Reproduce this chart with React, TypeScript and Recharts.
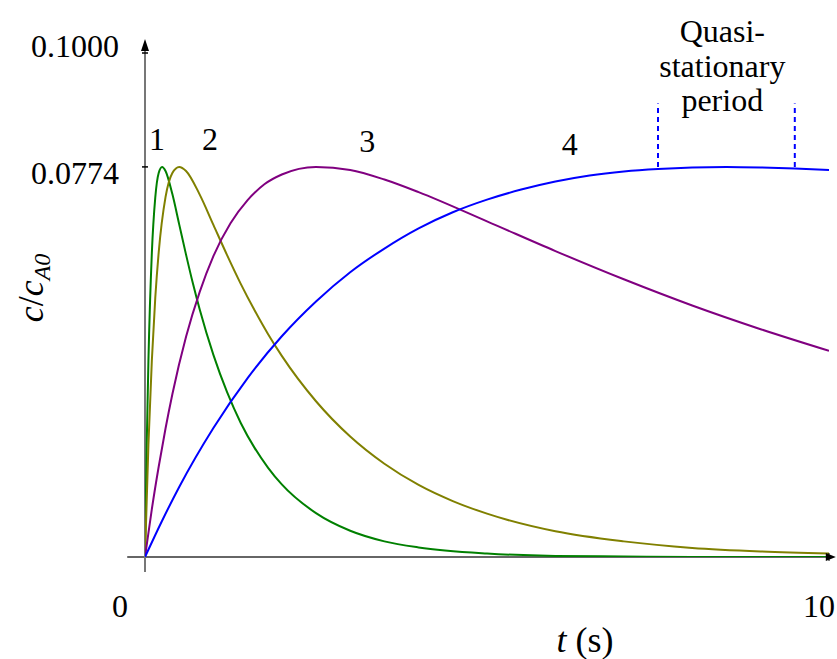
import React from "react";
import {
  LineChart,
  Line,
  XAxis,
  YAxis,
  ReferenceLine,
  ReferenceDot,
} from "recharts";

// curve 1 (fastest)
const t1 = [0, 0.025, 0.05, 0.1, 0.15, 0.2, 0.25, 0.3, 0.4, 0.5, 0.6, 0.7, 0.8, 1, 1.2, 1.4, 1.6, 1.8, 2, 2.5, 3, 3.5, 4, 5, 6, 7, 8, 10];
const c1 = [0, 0.0222, 0.0389, 0.0603, 0.0713, 0.0762, 0.0774, 0.0766, 0.072, 0.066, 0.06, 0.0543, 0.0491, 0.0401, 0.0327, 0.0266, 0.0217, 0.0177, 0.0144, 0.0087, 0.0052, 0.0031, 0.0019, 0.0007, 0.0002, 0.0001, 0, 0];

// curve 2
const t2 = [0, 0.05, 0.1, 0.15, 0.2, 0.3, 0.4, 0.5, 0.6, 0.8, 1, 1.2, 1.4, 1.6, 1.8, 2, 2.5, 3, 3.5, 4, 4.5, 5, 6, 7, 8, 9, 10];
const c2 = [0, 0.0223, 0.039, 0.0514, 0.0604, 0.0714, 0.0762, 0.0774, 0.0766, 0.0719, 0.0659, 0.0599, 0.0542, 0.049, 0.0442, 0.0399, 0.0309, 0.0239, 0.0185, 0.0143, 0.0111, 0.0086, 0.0051, 0.0031, 0.0018, 0.0011, 0.0007];

// curve 3
const t3 = [0, 0.1, 0.2, 0.3, 0.4, 0.6, 0.8, 1, 1.25, 1.5, 1.75, 2, 2.5, 3, 3.5, 4, 5, 6, 7, 8, 9, 10];
const c3 = [0, 0.0095, 0.0179, 0.0255, 0.0323, 0.0437, 0.0526, 0.0597, 0.0662, 0.0708, 0.074, 0.0759, 0.0774, 0.0768, 0.0749, 0.0724, 0.0666, 0.0607, 0.0551, 0.0499, 0.0452, 0.0409];

// curve 4 (slowest)
const t4 = [0, 0.25, 0.5, 1, 1.5, 2, 2.5, 3, 3.5, 4, 4.5, 5, 5.5, 6, 6.5, 7, 7.5, 8, 8.5, 9, 9.5, 10];
const c4 = [0, 0.0072, 0.0139, 0.0256, 0.0355, 0.0438, 0.0507, 0.0565, 0.0612, 0.0652, 0.0684, 0.0709, 0.0729, 0.0745, 0.0757, 0.0765, 0.077, 0.0773, 0.0774, 0.0773, 0.0771, 0.0768];

const yTicks = [0.0774, 0.1];
const xTicks = [0, 10];
const quasiStart = 7.5;
const quasiEnd = 9.5;
const quasiTop = 0.09;
const cMax = 0.0774;

const curveLabels = [
  { text: "1", t: 0.175, c: 0.0808 },
  { text: "2", t: 0.95, c: 0.0808 },
  { text: "3", t: 3.25, c: 0.0804 },
  { text: "4", t: 6.21, c: 0.0798 },
];
const quasiLines = [
  { text: "Quasi-", c: 0.1022 },
  { text: "stationary", c: 0.0953 },
  { text: "period", c: 0.0885 },
];

const zip = (ts: number[], cs: number[]) => ts.map((t, i) => ({ t, c: cs[i] }));

const FONT = "'Liberation Serif', 'Times New Roman', serif";

const YTick = (props: any) => {
  const { x, y, payload } = props;
  const top = payload.value === 0.1;
  return (
    <g>
      <line x1={x - 3} x2={x + 3} y1={y} y2={y} stroke="#000" strokeWidth={1.5} />
      <text x={x - 26} y={y + (top ? 4 : 17)} textAnchor="end" fontFamily={FONT} fontSize={32} fill="#000">
        {payload.value.toFixed(4)}
      </text>
    </g>
  );
};

const XTick = (props: any) => {
  const { x, y, payload } = props;
  const zero = payload.value === 0;
  return (
    <g>
      {!zero && <line x1={x} x2={x} y1={y - 4} y2={y + 4} stroke="#000" strokeWidth={1} />}
      <text x={x + (zero ? -25 : -10)} y={y + 60} textAnchor="middle" fontFamily={FONT} fontSize={32} fill="#000">
        {payload.value}
      </text>
    </g>
  );
};

const textShape = (label: string, size: number) => (p: any) => (
  <text x={p.cx} y={p.cy} textAnchor="middle" fontFamily={FONT} fontSize={size} fill="#000">
    {label}
  </text>
);

export default function App() {
  return (
    <div style={{ position: "absolute", left: 0, top: 0, background: "#fff" }}>
      <LineChart width={837} height={659} margin={{ top: 53, right: 8, bottom: 0, left: 0 }}>
        <XAxis
          type="number"
          dataKey="t"
          domain={[0, 10]}
          ticks={xTicks}
          axisLine={false}
          tickLine={false}
          tickSize={0}
          tickMargin={0}
          height={102}
          tick={<XTick />}
          allowDataOverflow
          label={{
            content: (p: any) => {
              const vb = p.viewBox;
              return (
                <text x={vb.x + vb.width / 2 + 98} y={vb.y + 95} textAnchor="middle" fontFamily={FONT} fontSize={36} fill="#000">
                  <tspan fontStyle="italic">t</tspan> (s)
                </text>
              );
            },
          }}
        />
        <YAxis
          type="number"
          domain={[0, 0.1]}
          ticks={yTicks}
          axisLine={false}
          tickLine={false}
          tickSize={0}
          tickMargin={0}
          width={145}
          tick={<YTick />}
          allowDataOverflow
          label={{
            content: (p: any) => {
              const vb = p.viewBox;
              const cx = vb.x + 43;
              const cy = vb.y + vb.height / 2 - 17;
              return (
                <text transform={`translate(${cx},${cy}) rotate(-90)`} textAnchor="middle" fontFamily={FONT} fontSize={36} fill="#000">
                  <tspan fontStyle="italic">c</tspan>/<tspan fontStyle="italic">c</tspan>
                  <tspan fontStyle="italic" fontSize={24} dy={7}>A0</tspan>
                </text>
              );
            },
          }}
        />

        {/* axes with arrows */}
        <ReferenceLine segment={[{ x: -0.26, y: 0 }, { x: 10.05, y: 0 }]} stroke="#333" strokeWidth={1.5} ifOverflow="visible" />
        <ReferenceLine segment={[{ x: 0, y: -0.003 }, { x: 0, y: 0.1015 }]} stroke="#777" strokeWidth={2} ifOverflow="visible" />
        <ReferenceDot
          x={0}
          y={0.1028}
          ifOverflow="visible"
          shape={(p: any) => <path d={`M${p.cx},${p.cy} L${p.cx - 4},${p.cy + 12} L${p.cx + 4},${p.cy + 12} Z`} fill="#000" />}
        />
        <ReferenceDot
          x={10.1}
          y={0}
          ifOverflow="visible"
          shape={(p: any) => <path d={`M${p.cx},${p.cy} L${p.cx - 10},${p.cy - 4} L${p.cx - 10},${p.cy + 4} Z`} fill="#000" />}
        />

        {/* quasi-stationary window */}
        <ReferenceLine segment={[{ x: quasiStart, y: cMax }, { x: quasiStart, y: quasiTop }]} stroke="#0000ff" strokeWidth={2} strokeDasharray="5 4" />
        <ReferenceLine segment={[{ x: quasiEnd, y: cMax }, { x: quasiEnd, y: quasiTop }]} stroke="#0000ff" strokeWidth={2} strokeDasharray="5 4" />

        <Line data={zip(t1, c1)} dataKey="c" type="monotone" stroke="#008000" strokeWidth={2} dot={false} isAnimationActive={false} />
        <Line data={zip(t2, c2)} dataKey="c" type="monotone" stroke="#808000" strokeWidth={2} dot={false} isAnimationActive={false} />
        <Line data={zip(t3, c3)} dataKey="c" type="monotone" stroke="#800080" strokeWidth={2} dot={false} isAnimationActive={false} />
        <Line data={zip(t4, c4)} dataKey="c" type="monotone" stroke="#0000ff" strokeWidth={2} dot={false} isAnimationActive={false} />

        {curveLabels.map((l) => (
          <ReferenceDot key={l.text} x={l.t} y={l.c} ifOverflow="visible" shape={textShape(l.text, 32)} />
        ))}
        {quasiLines.map((l) => (
          <ReferenceDot key={l.text} x={8.44} y={l.c} ifOverflow="visible" shape={textShape(l.text, 32)} />
        ))}
      </LineChart>
    </div>
  );
}
